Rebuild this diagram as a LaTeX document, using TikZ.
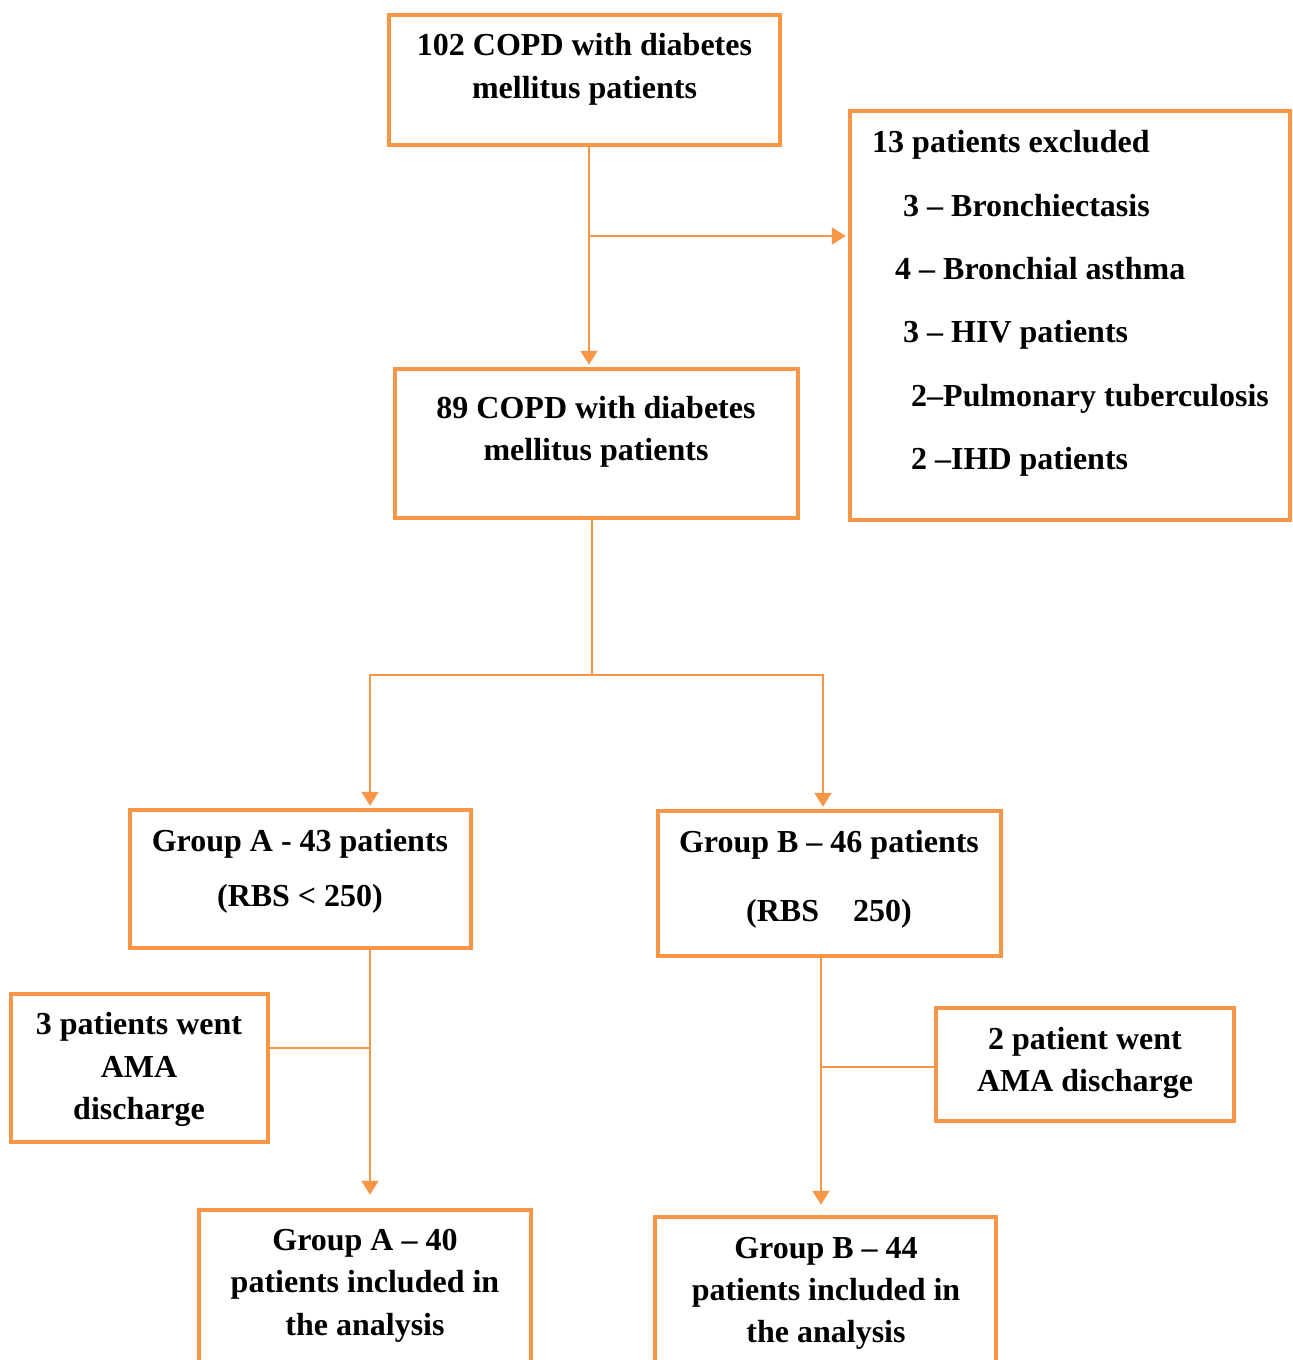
\documentclass[tikz,border=0pt]{standalone}
\usepackage{fontspec}
\setmainfont{Liberation Serif}
\usetikzlibrary{arrows.meta,positioning}
\definecolor{boxorange}{HTML}{F79646}
\tikzset{
	box/.style={draw=boxorange, line width=4.5pt, inner sep=0pt},
	txt/.style={inner sep=0pt, align=center, font=\fontsize{32}{43}\selectfont\bfseries},
	link/.style={draw=boxorange, line width=1.8pt},
	>={Triangle[length=14pt,width=17pt]}
}

\begin{document}
\begin{tikzpicture}[x=1pt,y=-1pt]
	\useasboundingbox (0,0) rectangle (1293,1360);

	% boxes
	\node[box, minimum width=391, minimum height=130] (start) at (584.5, 80) {};
	\node[box, minimum width=440, minimum height=409] (excl) at (1070, 315.5) {};
	\node[box, minimum width=403, minimum height=149] (mid) at (596.5, 443.5) {};
	\node[box, minimum width=341, minimum height=138] (grpA) at (300.5, 879) {};
	\node[box, minimum width=343, minimum height=145] (grpB) at (829.5, 883.5) {};
	\node[box, minimum width=257, minimum height=148] (amaA) at (139.5, 1068) {};
	\node[box, minimum width=298, minimum height=113] (amaB) at (1085, 1064.5) {};
	\node[box, minimum width=332, minimum height=170] (finA) at (365, 1295) {};
	\node[box, minimum width=341, minimum height=163] (finB) at (825.5, 1298.5) {};

	% texts
	\node[txt] (startText) at (584.5, 69.5) {102 COPD with diabetes\\mellitus patients};
	\node[txt, align=left, anchor=west, font=\fontsize{32}{63.4}\selectfont\bfseries] (exclText) at (872, 303.5)
		{13 patients excluded\\
		 \hspace*{31pt}3 – Bronchiectasis\\
		 \hspace*{23pt}4 – Bronchial asthma\\
		 \hspace*{31pt}3 – HIV patients\\
		 \hspace*{39pt}2–Pulmonary tuberculosis\\
		 \hspace*{39pt}2 –IHD patients};
	\node[txt, font=\fontsize{32}{42}\selectfont\bfseries] (midText) at (596, 432) {89 COPD with diabetes\\mellitus patients};
	\node[txt, font=\fontsize{32}{55}\selectfont\bfseries] (grpAText) at (300, 871.5) {Group A - 43 patients\\(RBS < 250)};
	\node[txt, font=\fontsize{32}{69}\selectfont\bfseries] (grpBText) at (829, 879.5) {Group B – 46 patients\\(RBS\hspace{34pt}250)};
	\node[txt, font=\fontsize{32}{42.5}\selectfont\bfseries] (amaAText) at (139, 1069.5) {3 patients went\\AMA\\discharge};
	\node[txt, font=\fontsize{32}{42}\selectfont\bfseries] (amaBText) at (1085, 1063) {2 patient went\\AMA discharge};
	\node[txt, font=\fontsize{32}{42.5}\selectfont\bfseries] (finAText) at (365, 1285.5) {Group A – 40\\patients included in\\the analysis};
	\node[txt, font=\fontsize{32}{42}\selectfont\bfseries] (finBText) at (826, 1293) {Group B – 44\\patients included in\\the analysis};

	% connectors
	\coordinate (split1) at (589, 236);
	\coordinate (split2) at (592, 675);
	\coordinate (joinA) at (370, 675);
	\coordinate (joinB) at (823, 675);
	\coordinate (sideA) at (370, 1048);
	\coordinate (sideB) at (821, 1067);

	\draw[link, ->] (start.south -| split1) -- ([yshift=2pt]mid.north -| split1);
	\draw[link, ->] (split1) -- ([xshift=-2pt]split1 -| excl.west);

	\draw[link] (mid.south -| split2) -- (split2);
	\draw[link, ->] (split2) -- (joinA) -- ([yshift=2pt]joinA |- grpA.north);
	\draw[link, ->] (split2) -- (joinB) -- ([yshift=2pt]joinB |- grpB.north);

	\draw[link, ->] (grpA.south -| sideA) -- ([yshift=13pt]finA.north -| sideA);
	\draw[link] (amaA.east |- sideA) -- (sideA);

	\draw[link, ->] (grpB.south -| sideB) -- ([yshift=10pt]finB.north -| sideB);
	\draw[link] (sideB) -- (sideB -| amaB.west);
\end{tikzpicture}
\end{document}
